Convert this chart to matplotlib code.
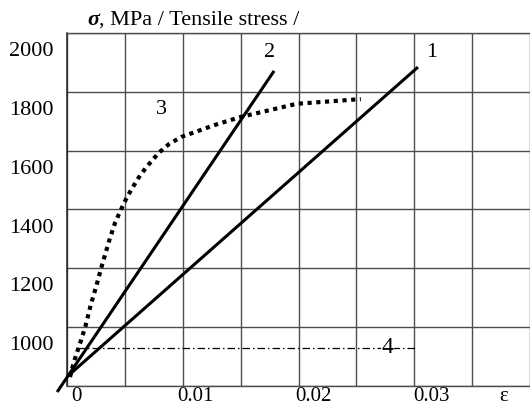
import numpy as np
import matplotlib
matplotlib.use("Agg")
import matplotlib.pyplot as plt

# ---------------- data ----------------
# curve 1 and 2: straight lines (strain, stress MPa)
line1_eps = [-0.00075, 0.02883]
line1_sig = [888, 1940]
line2_eps = [-0.00167, 0.01667]
line2_sig = [833, 1927]
# curve 3: dotted curve
curve3_eps = [-0.00058, -0.00025, 0.00008, 0.00042, 0.00075, 0.00117, 0.00167,
              0.00208, 0.00275, 0.00325, 0.00383, 0.00420, 0.00458, 0.00520,
              0.00583, 0.00692, 0.00780, 0.00883, 0.01167, 0.01383, 0.01858, 0.0240]
curve3_sig = [884, 935, 976, 1017, 1061, 1129, 1198, 1259, 1351, 1412, 1463,
              1494, 1521, 1562, 1597, 1648, 1678, 1702, 1743, 1770, 1815, 1831]
# curve 4: horizontal dash-dot line
line4_eps = [0.0, 0.02875]
line4_sig = [983, 983]

curve_labels = ["1", "2", "3", "4"]
curve_label_eps = [0.0300, 0.01633, 0.00717, 0.02625]
curve_label_sig = [1991, 1991, 1794, 983]

xtick_vals = [0.0, 0.01, 0.02, 0.03, 0.0361]
xtick_labels = ["0", "0.01", "0.02", "0.03", "ε"]
ytick_vals = [1000, 1200, 1400, 1600, 1800, 2000]
ytick_labels = ["1000", "1200", "1400", "1600", "1800", "2000"]

title_sym = "σ"
title_rest = ", MPa / Tensile stress /"

# ---------------- figure ----------------
W, H = 530, 409
fig = plt.figure(figsize=(W / 100, H / 100), dpi=100)
ax = fig.add_axes([67 / W, (H - 386) / H, (W - 67) / W, (386 - 33) / H])

serif = ["Liberation Serif", "DejaVu Serif"]

x0, x1 = -0.000833, 0.03775
y0, y1 = 853.5, 2056.2
ax.set_xlim(x0, x1)
ax.set_ylim(y0, y1)

# grid (square cells)
xstep = 58.7 / 12000
ygrid = np.linspace(y0, y1, 7)
xgrid = x0 + xstep * np.arange(0, 9)
ax.set_xticks(xgrid, minor=True)
ax.set_yticks(ygrid, minor=True)
ax.grid(which="minor", color="#4d4d4d", linewidth=1.0)
ax.tick_params(which="minor", length=0)

ax.set_xticks(xtick_vals)
ax.set_xticklabels(xtick_labels, fontfamily=serif, fontsize=15)
ax.set_yticks(ytick_vals)
ax.set_yticklabels(ytick_labels, fontfamily=serif, fontsize=16)
ax.tick_params(which="major", length=0)
ax.tick_params(axis="x", pad=1)
ax.tick_params(axis="y", pad=10)

ax.spines["right"].set_visible(False)
ax.spines["left"].set_color("#222222")
ax.spines["left"].set_linewidth(1.1)
for s in ["top", "bottom"]:
    ax.spines[s].set_color("#4d4d4d")
    ax.spines[s].set_linewidth(1.0)

# curves
ax.plot(line1_eps, line1_sig, color="black", lw=2.2, solid_capstyle="butt", clip_on=False, zorder=3)
ax.plot(line2_eps, line2_sig, color="black", lw=2.2, solid_capstyle="butt", clip_on=False, zorder=3)
ax.plot(curve3_eps, curve3_sig, color="black", lw=3.0, linestyle=(0, (1.0, 1.1)),
        dash_capstyle="butt", clip_on=False, zorder=3)
ax.plot(line4_eps, line4_sig, color="black", lw=0.9,
        linestyle=(0, (6.0, 2.4, 1.2, 2.4)), zorder=2)

for lab, xe, ys in zip(curve_labels, curve_label_eps, curve_label_sig):
    kw = {}
    if lab == "4":
        kw["bbox"] = dict(facecolor="white", edgecolor="none", pad=0.5)
    ax.text(xe, ys, lab, fontfamily=serif, fontsize=17 if lab == "4" else 16,
            ha="center", va="center", zorder=4, **kw)

# title
t1 = fig.text(87 / W, 1 - 20 / H, title_sym, fontfamily=serif, fontsize=16,
              fontweight="bold", fontstyle="italic", ha="left", va="center")
fig.canvas.draw()
bb = t1.get_window_extent()
fig.text(bb.x1 / W, 1 - 20 / H, title_rest, fontfamily=serif, fontsize=16,
         ha="left", va="center")

fig.savefig("out.png", dpi=100)
